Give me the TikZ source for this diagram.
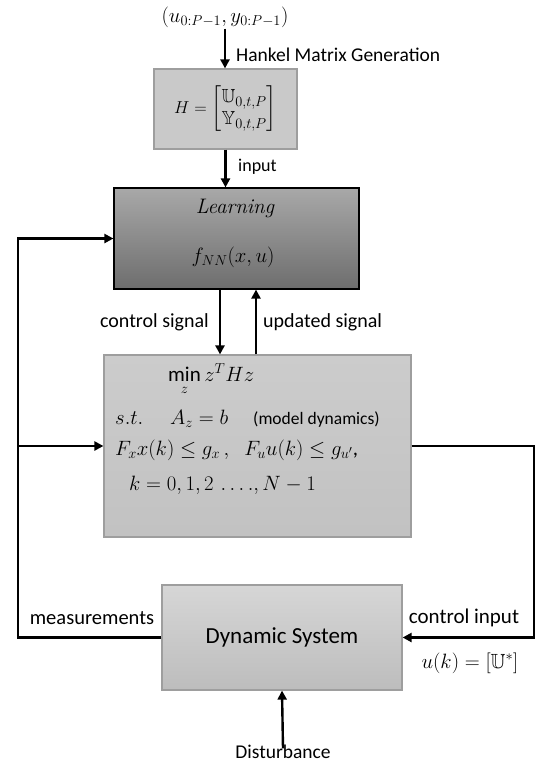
\documentclass[tikz,border=0pt]{standalone}
\usepackage{amsmath,amssymb}
\usepackage{fontspec}
\setmainfont{Carlito}
\newfontfamily\lmfont{Latin Modern Roman}
\usetikzlibrary{positioning,calc,arrows.meta}

\begin{document}
\begin{tikzpicture}[
    x=1pt,y=-1pt,
    >={Triangle[length=9pt,width=9pt]},
    wire/.style={line width=2.4pt},
    block/.style={draw=black!38,line width=1.2pt,inner sep=0pt},
    lbl/.style={font=\fontsize{20}{24}\selectfont,inner sep=1pt},
    eq/.style={font=\fontsize{21}{25}\selectfont,inner sep=0pt}
    ]
        \useasboundingbox (0,0) rectangle (536,764);

        % blocks
        \node [block,fill=black!21,minimum width=143pt,minimum height=80pt,
               font=\fontsize{19}{22}\selectfont](hankel) at (225.5,109)
              {$H=\begin{bmatrix}\mathbb{U}_{0,t,P}\\ \mathbb{Y}_{0,t,P}\end{bmatrix}$};
        \node [block,draw=black,top color=black!34,bottom color=black!57,
               minimum width=245pt,minimum height=101pt](learn) at (236.5,238.5) {};
        \node [block,top color=black!20,bottom color=black!24,
               minimum width=307pt,minimum height=182pt](mpc) at (257.5,446) {};
        \node [block,top color=black!16,bottom color=black!26,
               minimum width=240pt,minimum height=105pt,
               font=\fontsize{23}{27}\selectfont](ds) at (282,637.5) {Dynamic System};

        % learning block text
        \node [eq,font=\fontsize{21}{25}\lmfont\itshape](lrn) at (235,208) {Learning};
        \node [eq](fnn) at (233,257) {$f_{NN}(x,u)$};

        % optimisation problem
        \node [eq,anchor=base west](cost) at (168,381) {$\min\limits_{z} z^{T}Hz$};
        \node [eq,anchor=base west](st) at (115,424) {$s.t.\quad\; A_{z}=b$};
        \node [anchor=base west,inner sep=1pt,font=\fontsize{17.5}{20}\selectfont]
              (dyn) at (252,424) {(model dynamics)};
        \node [eq,anchor=base west](cons) at (115,455)
              {$F_{x}x(k)\le g_{x}\,,\;\;F_{u}u(k)\le g_{u'}$,};
        \node [eq,anchor=base west](hor) at (129,490) {$k=0,1,2\,\ldots.,N-1$};

        % labels
        \node [inner sep=1pt,font=\fontsize{22}{26}\selectfont](src) at (225,17)
              {$(u_{0:P-1},y_{0:P-1})$};
        \node [lbl,anchor=west,font=\fontsize{19.5}{23}\selectfont](hmg) at (235,55)
              {Hankel Matrix Generation};
        \node [lbl,anchor=west,font=\fontsize{18}{22}\selectfont](inp) at (237,167) {input};
        \node [lbl,anchor=east](ctl) at (210,322) {control signal};
        \node [lbl,anchor=west](upd) at (262,322) {updated signal};
        \node [lbl,font=\fontsize{20.5}{24}\selectfont](meas) at (92,618) {measurements};
        \node [lbl,font=\fontsize{21}{25}\selectfont](cin) at (464,618) {control input};
        \node [eq,font=\fontsize{20.5}{24}\selectfont](uk) at (470,663) {$u(k)=[\mathbb{U}^{*}]$};
        \node [lbl,anchor=base,font=\fontsize{19.5}{23}\selectfont](dist) at (283,758) {Disturbance};

        \coordinate (fbl) at (18,637.5);
        \coordinate (fbr) at (534,540);
        \coordinate (cs) at ($(learn.south)+(-16.5,0)$);
        \coordinate (us) at ($(learn.south)+(19.5,0)$);

        % connectors
        \draw [wire,->] (src.south) -- (src.south |- hankel.north);
        \draw [wire,->] (hankel.south) -- (hankel.south |- learn.north);
        \draw [wire,->] (cs) -- (cs |- mpc.north);
        \draw [wire,->] (us |- mpc.north) -- (us);
        \draw [wire,->] (ds.west) -- (fbl) |- (learn.west);
        \draw [wire,->] (fbl |- mpc.west) -- (mpc.west);
        \draw [wire,->] (mpc.east) -| (fbr) |- (ds.east);
        \draw [wire,->] ([yshift=-5pt]dist.north) -- (ds.south);

\end{tikzpicture}
\end{document}
